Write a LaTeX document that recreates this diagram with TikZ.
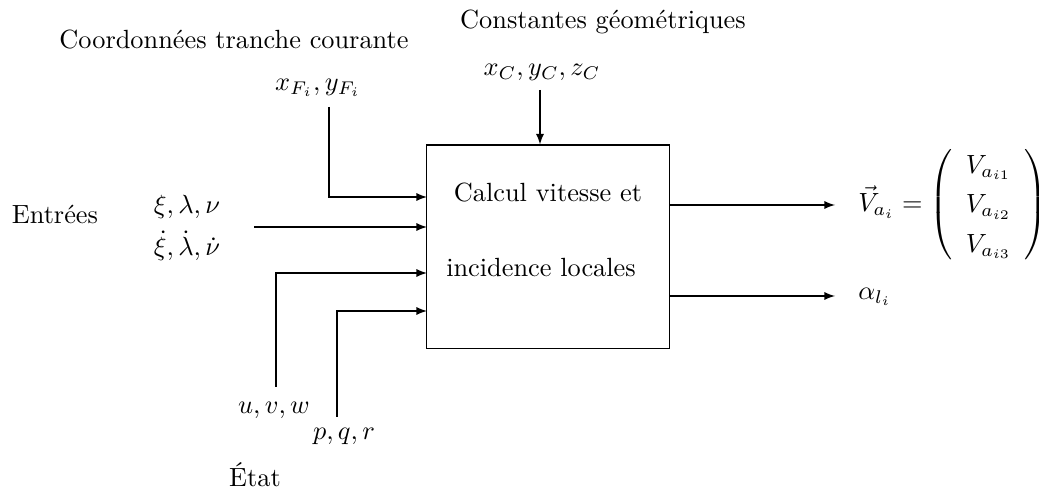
\documentclass[tikz,border=0pt]{standalone}
\usepackage{amsmath}

\begin{document}
\begin{tikzpicture}[x=0.38pt,y=0.38pt,>=latex,
  bloc/.style={draw,minimum width=92pt,minimum height=77.5pt},
  fleche/.style={->}]

% =========================
% CADRE
% =========================

\useasboundingbox (0,0) rectangle (1039,493);

% =========================
% BLOC
% =========================

\node[bloc] (calc) at (548,246) {};
\node (calcA) at (548,300) {Calcul vitesse et};
\node (calcB) at (541,225) {incidence locales};

% =========================
% TEXTES
% =========================

\node (coord) at (234,453) {Coordonn\'ees tranche courante};
\node (const) at (603,471) {Constantes g\'eom\'etriques};
\node (xc) at (542,421) {$x_C,y_C,z_C$};
\node (xf) at (318,405) {$x_{F_i},y_{F_i}$};
\node (entrees) at (55,279) {Entr\'ees};
\node (xi) at (187,286) {$\xi,\lambda,\nu$};
\node (xidot) at (187,247) {$\dot{\xi},\dot{\lambda},\dot{\nu}$};
\node (uvw) at (274,83) {$u,v,w$};
\node (pqr) at (344,57) {$p,q,r$};
\node (etat) at (255,18) {\'Etat};
\node[anchor=west] (va) at (849,288)
  {\renewcommand{\arraystretch}{1.25}%
   $\vec{V}_{a_i}=\left(\begin{array}{c}V_{a_{i1}}\\V_{a_{i2}}\\V_{a_{i3}}\end{array}\right)$};
\node[anchor=west] (alpha) at (849,196) {$\alpha_{l_i}$};

% =========================
% POINTS
% =========================

\coordinate (xcbas) at (540,403);
\coordinate (xfbas) at (329,386);
\coordinate (xidep) at (254,266);
\coordinate (uvwdep) at (276,106);
\coordinate (pqrdep) at (337,76);

\coordinate (in1) at (427,296);
\coordinate (in2) at (427,266);
\coordinate (in3) at (427,220);
\coordinate (in4) at (427,182);

\coordinate (out1) at (835,288);
\coordinate (out2) at (835,197);

% =========================
% FLECHES
% =========================

\draw[fleche] (xcbas) -- (xcbas |- calc.north);
\draw[fleche] (xfbas) |- (in1);
\draw[fleche] (xidep) -- (in2);
\draw[fleche] (uvwdep) |- (in3);
\draw[fleche] (pqrdep) |- (in4);

\draw[fleche] (calc.east |- out1) -- (out1);
\draw[fleche] (calc.east |- out2) -- (out2);

\end{tikzpicture}
\end{document}
